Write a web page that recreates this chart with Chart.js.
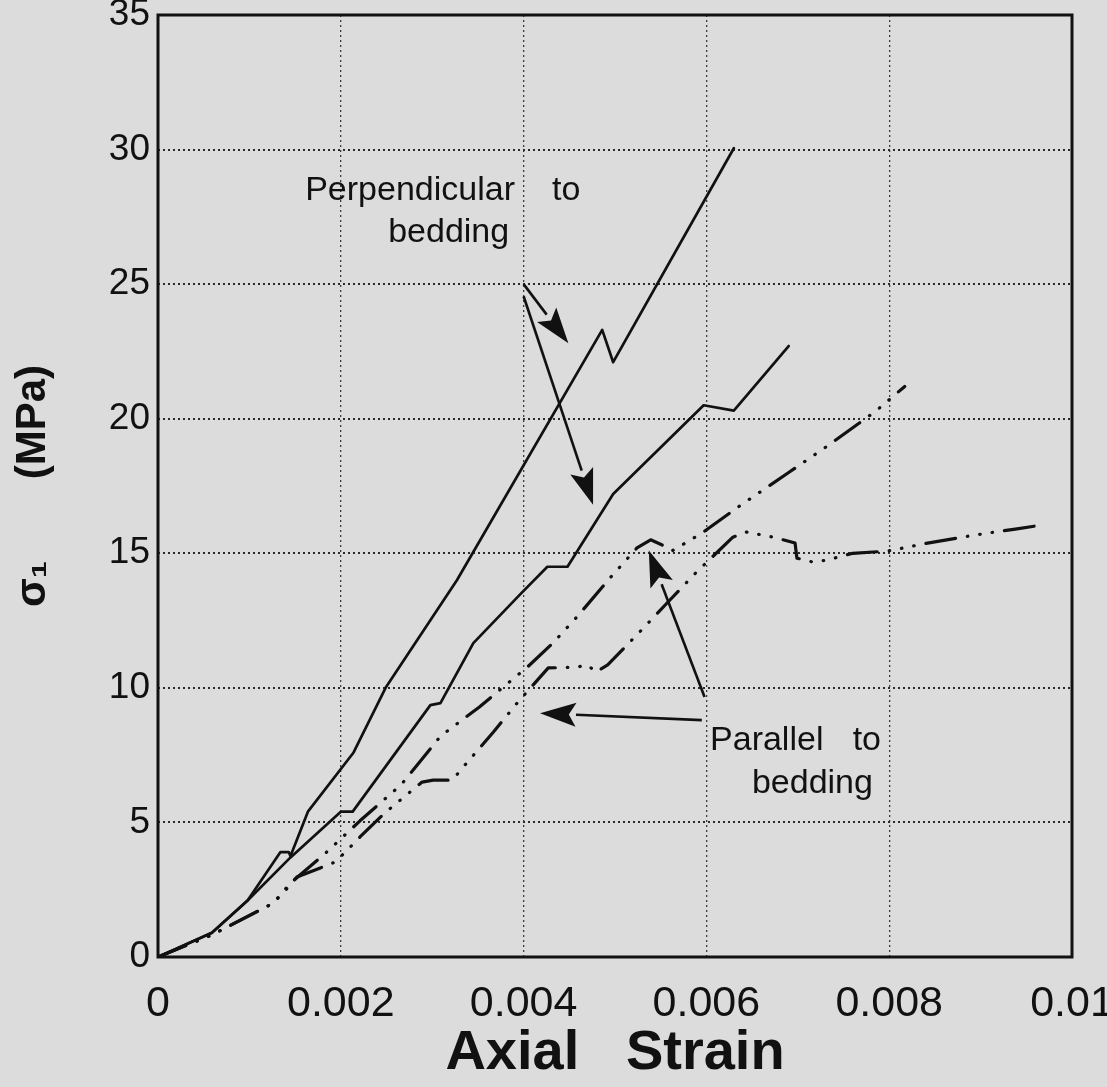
<!DOCTYPE html>
<html lang="en">
<head>
<meta charset="UTF-8">
<title>Axial strain vs stress</title>
<style>
body { margin:0; padding:0; background:#dcdcdc; }
#wrap { width:1107px; height:1087px; }
</style>
</head>
<body>
<div id="wrap"><canvas id="strainChart" width="1107" height="1087"></canvas></div>
<script src="https://cdn.jsdelivr.net/npm/chart.js"></script>
<script>
// perpendicular to bedding, steep curve
const perpA_strain = [0, 0.00059, 0.00098, 0.00134, 0.00143, 0.00145, 0.00164, 0.00214, 0.00249, 0.00327, 0.00486, 0.00498, 0.0063];
const perpA_stress = [0, 0.9, 2.1, 3.9, 3.9, 3.75, 5.4, 7.6, 10.0, 14.0, 23.3, 22.1, 30.05];
// perpendicular to bedding, second curve
const perpB_strain = [0, 0.00059, 0.00098, 0.00145, 0.002, 0.00213, 0.00298, 0.00309, 0.00345, 0.00397, 0.00426, 0.00448, 0.00498, 0.00597, 0.0063, 0.0069];
const perpB_stress = [0, 0.9, 2.1, 3.7, 5.4, 5.4, 9.36, 9.43, 11.66, 13.5, 14.5, 14.5, 17.2, 20.5, 20.3, 22.7];
// parallel to bedding, curve ending near 21 MPa
const parA_strain = [0, 0.00059, 0.00126, 0.00145, 0.00183, 0.00221, 0.00266, 0.00309, 0.00352, 0.00405, 0.00432, 0.0046, 0.00495, 0.00524, 0.00539, 0.00552, 0.00563, 0.00595, 0.00636, 0.0069, 0.00733, 0.00786, 0.00817];
const parA_stress = [0, 0.82, 2.0, 2.75, 3.85, 5.06, 6.4, 8.2, 9.3, 10.8, 11.66, 12.7, 14.1, 15.2, 15.5, 15.3, 15.1, 15.75, 16.75, 18.0, 19.0, 20.3, 21.2];
// parallel to bedding, curve levelling off near 15-16 MPa
const parB_strain = [0, 0.00059, 0.00126, 0.0014, 0.00152, 0.00194, 0.00207, 0.00221, 0.00248, 0.00289, 0.00301, 0.00322, 0.00333, 0.00367, 0.00393, 0.00418, 0.00427, 0.00458, 0.0047, 0.00479, 0.00492, 0.00531, 0.00558, 0.00588, 0.00629, 0.00644, 0.00673, 0.00697, 0.00699, 0.00717, 0.00732, 0.0076, 0.00798, 0.00842, 0.00894, 0.00938, 0.00967];
const parB_stress = [0, 0.82, 2.0, 2.5, 2.97, 3.53, 3.97, 4.46, 5.35, 6.5, 6.57, 6.57, 7.02, 8.36, 9.44, 10.4, 10.74, 10.77, 10.85, 10.59, 10.85, 12.22, 13.19, 14.26, 15.6, 15.79, 15.6, 15.38, 14.82, 14.67, 14.75, 15.0, 15.08, 15.38, 15.68, 15.9, 16.05];

const xTicks = [0, 0.002, 0.004, 0.006, 0.008, 0.01];
const yTicks = [0, 5, 10, 15, 20, 25, 30, 35];

const ink = '#111111';
const pts = (xs, ys) => xs.map((x, i) => ({x: x, y: ys[i]}));
const dashDots = [30, 12, 0.5, 12, 0.5, 12, 0.5, 12];

// labels and arrows, in data units
const notes = [
  {text: 'Perpendicular', x: 0.00161, y: 28.12, align: 'left'},
  {text: 'to', x: 0.00431, y: 28.12, align: 'left'},
  {text: 'bedding', x: 0.00318, y: 26.56, align: 'center'},
  {text: 'Parallel', x: 0.00604, y: 7.69, align: 'left'},
  {text: 'to', x: 0.00760, y: 7.69, align: 'left'},
  {text: 'bedding', x: 0.00716, y: 6.09, align: 'center'}
];
const arrows = [
  [0.0040, 25.0, 0.00449, 22.8],
  [0.0040, 24.55, 0.00476, 16.8],
  [0.00598, 9.66, 0.00537, 15.1],
  [0.00595, 8.8, 0.00418, 9.06]
];

const paperPlugin = {
  id: 'paper',
  beforeDraw(chart) {
    const c = chart.ctx;
    c.save();
    c.fillStyle = '#dcdcdc';
    c.fillRect(0, 0, chart.width, chart.height);
    c.restore();
  },
  afterDatasetsDraw(chart) {
    const c = chart.ctx, a = chart.chartArea;
    const xs = chart.scales.x, ys = chart.scales.y;
    c.save();
    c.strokeStyle = ink;
    c.lineWidth = 3;
    c.strokeRect(a.left, a.top, a.right - a.left, a.bottom - a.top);

    c.fillStyle = ink;
    c.font = '34px "Liberation Sans", Arial, sans-serif';
    c.textBaseline = 'alphabetic';
    notes.forEach(n => {
      c.textAlign = n.align;
      c.fillText(n.text, xs.getPixelForValue(n.x), ys.getPixelForValue(n.y));
    });

    arrows.forEach(ar => {
      const x1 = xs.getPixelForValue(ar[0]), y1 = ys.getPixelForValue(ar[1]);
      const x2 = xs.getPixelForValue(ar[2]), y2 = ys.getPixelForValue(ar[3]);
      const ang = Math.atan2(y2 - y1, x2 - x1);
      const len = 36, half = 12;
      const bx = x2 - len * Math.cos(ang), by = y2 - len * Math.sin(ang);
      c.lineWidth = 2.6;
      c.beginPath(); c.moveTo(x1, y1); c.lineTo(bx, by); c.stroke();
      c.beginPath();
      c.moveTo(x2, y2);
      c.lineTo(bx + half * Math.sin(ang), by - half * Math.cos(ang));
      c.lineTo(x2 - 0.8 * len * Math.cos(ang), y2 - 0.8 * len * Math.sin(ang));
      c.lineTo(bx - half * Math.sin(ang), by + half * Math.cos(ang));
      c.closePath();
      c.fill();
    });
    c.restore();
  }
};

const lineSet = (data, dash, w) => ({
  data: data, showLine: true, fill: false, tension: 0,
  borderColor: ink, borderWidth: w, borderDash: dash,
  borderCapStyle: 'round', borderJoinStyle: 'round',
  pointRadius: 0
});

const ctx = document.getElementById('strainChart').getContext('2d');
new Chart(ctx, {
  type: 'scatter',
  data: {
    datasets: [
      lineSet(pts(perpA_strain, perpA_stress), [], 2.7),
      lineSet(pts(perpB_strain, perpB_stress), [], 2.7),
      lineSet(pts(parA_strain, parA_stress), dashDots, 3.2),
      lineSet(pts(parB_strain, parB_stress), dashDots, 3.2)
    ]
  },
  options: {
    responsive: false,
    animation: false,
    layout: { padding: { left: 8, right: 35, top: 15, bottom: 0 } },
    plugins: { legend: { display: false }, tooltip: { enabled: false } },
    scales: {
      x: {
        type: 'linear', min: 0, max: 0.01,
        afterBuildTicks: s => { s.ticks = xTicks.map(v => ({value: v})); },
        afterFit: s => { s.height = 130; s.paddingLeft = 0; s.paddingRight = 0; },
        ticks: {
          color: ink, padding: 21,
          font: { family: '"Liberation Sans", Arial, sans-serif', size: 43 },
          callback: v => String(+v.toFixed(3))
        },
        grid: { color: '#3c3c3c', lineWidth: 1.3, drawTicks: false },
        border: { display: false, dash: [2, 3] },
        title: {
          display: true, text: 'Axial   Strain', color: ink,
          font: { family: '"Liberation Sans", Arial, sans-serif', size: 56, weight: 'bold' },
          padding: { top: 0, bottom: 0 }
        }
      },
      y: {
        type: 'linear', min: 0, max: 35,
        afterBuildTicks: s => { s.ticks = yTicks.map(v => ({value: v})); },
        afterFit: s => { s.width = 150; s.paddingTop = 0; s.paddingBottom = 0; },
        ticks: {
          color: ink, padding: 8,
          font: { family: '"Liberation Sans", Arial, sans-serif', size: 37, lineHeight: 0.8 }
        },
        grid: { color: '#2a2a2a', lineWidth: 2, drawTicks: false },
        border: { display: false, dash: [2, 3] },
        title: {
          display: true, text: 'σ₁       (MPa)', color: ink,
          font: { family: '"Liberation Sans", Arial, sans-serif', size: 42, weight: 'bold' },
          padding: { top: 0, bottom: 0 }
        }
      }
    }
  },
  plugins: [paperPlugin]
});
</script>
</body>
</html>
